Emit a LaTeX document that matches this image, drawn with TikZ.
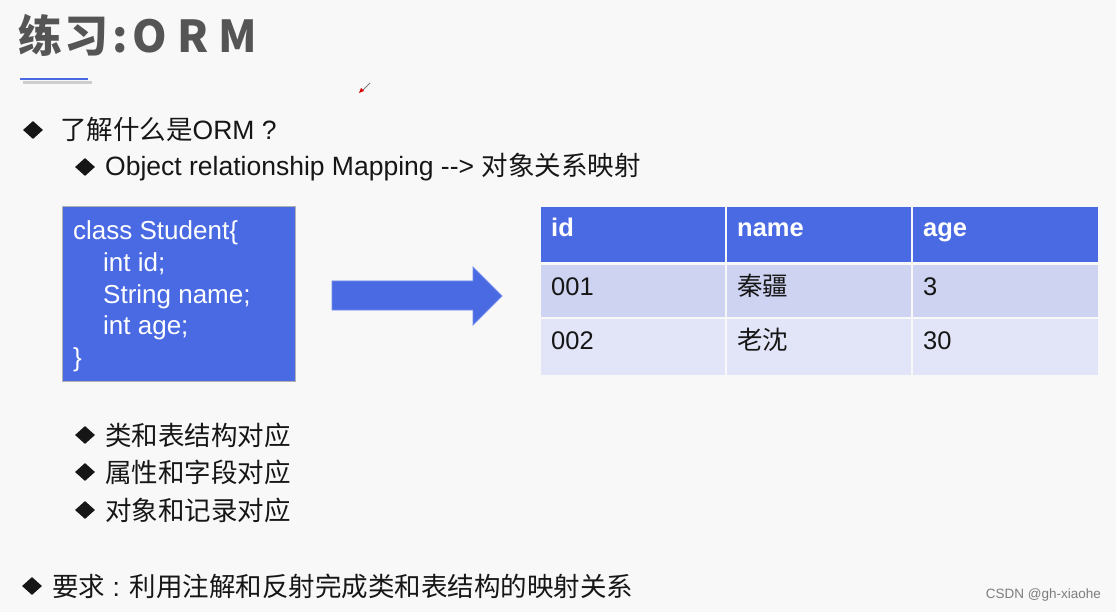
\documentclass[tikz,border=0pt]{standalone}
\usepackage{fontspec}
\setmainfont{Liberation Sans}
\newfontfamily\cjk{Noto Sans CJK SC}
\usetikzlibrary{shapes.geometric}
\definecolor{slidebg}{RGB}{248,248,248}
\definecolor{ormblue}{RGB}{73,106,227}
\definecolor{rowone}{RGB}{206,211,241}
\definecolor{rowtwo}{RGB}{226,229,247}
\definecolor{titlegray}{RGB}{85,85,85}
\definecolor{inkgray}{RGB}{22,22,22}
\definecolor{markgray}{RGB}{125,125,125}

\tikzset{
  bulletmark/.style={diamond,fill=inkgray,inner sep=0pt,
    minimum width=20pt,minimum height=18pt},
  line/.style={anchor=west,inner sep=0pt,text=inkgray,
    font=\fontsize{26.5}{30}\selectfont},
  codeline/.style={anchor=base west,inner sep=0pt,text=white,
    font=\fontsize{26}{30}\selectfont},
  cell/.style={anchor=base west,inner sep=0pt,text=inkgray,
    font=\fontsize{25.5}{30}\selectfont},
  headcell/.style={cell,text=white,font=\fontsize{25.5}{30}\selectfont\bfseries}
}

\begin{document}
\begin{tikzpicture}[x=1pt,y=-1pt]
    \fill[slidebg] (0,0) rectangle (1116,612);
    \useasboundingbox (0,0) rectangle (1116,612);
    % title and its rule
    \node[anchor=west,inner sep=0pt,text=titlegray,
          font=\cjk\bfseries\fontsize{44}{50}\selectfont] (title) at (18,35)
      {练\kern2pt 习\kern4pt:\kern5pt O\kern10pt R\kern10pt M};
    \draw[black!30,line width=3pt,opacity=0.6] (23,83) -- (92,83);
    \draw[ormblue,line width=2.2pt] (20,79) -- (88,79);
    % pen cursor
    \draw[markgray,line width=0.9pt] (370,83) -- (363,90);
    \fill[red!85!black] (359,93) -- (361,88) -- (364,91) -- cycle;
    % what is ORM
    \node[bulletmark] (q1m) at (33,130) {};
    \node[line] (q1) at (60,129) {{\cjk 了解什么是}ORM ?};
    \node[bulletmark] (q2m) at (85,167) {};
    \node[line] (q2) at (105,167)
      {Object relationship Mapping {-}{-}> {\cjk 对象关系映射}};
    % the class
    \node[draw=black!30,line width=0.8pt,fill=ormblue,inner sep=0pt,
          anchor=north west,minimum width=233pt,minimum height=175pt]
      (cls) at (62,206) {};
    \foreach \i/\x/\t in {0/73/class Student\{, 1/103/int id;,
        2/103/String name;, 3/103/int age;, 4/73/\}}
      \node[codeline] (code\i) at (\x,{240+31.5*\i}) {\t};
    % the mapping arrow
    \fill[ormblue,draw=ormblue!75!white,line width=0.8pt]
      (332,281) -- (473,281) -- (473,267) -- (502,296)
      -- (473,325) -- (473,310) -- (332,310) -- cycle;
    % the table
    \foreach \top/\bot/\col in {207/262/ormblue, 265/317/rowone, 319/375/rowtwo}
      \foreach \l/\r in {541/725, 727/911, 913/1098}
        \fill[\col] (\l,\top) rectangle (\r,\bot);
    \node[headcell] (hid) at (551,237) {id};
    \node[headcell] (hname) at (737,237) {name};
    \node[headcell] (hage) at (923,237) {age};
    \node[cell] (id1) at (551,295) {001};
    \node[cell] (name1) at (737,295) {\cjk 秦疆};
    \node[cell] (age1) at (923,295) {3};
    \node[cell] (id2) at (551,349) {002};
    \node[cell] (name2) at (737,349) {\cjk 老沈};
    \node[cell] (age2) at (923,349) {30};
    % what maps to what
    \foreach \i/\y/\t in {1/435/类和表结构对应, 2/472/属性和字段对应,
        3/510/对象和记录对应}{
      \node[bulletmark] (m\i m) at (85,\y) {};
      \node[line] (m\i) at (105,\y) {\cjk \t};}
    % the task
    \node[bulletmark] (taskm) at (32,586) {};
    \node[line] (task) at (52,586)
      {{\cjk 要求} : {\cjk 利用注解和反射完成类和表结构的映射关系}};
    % watermark
    \node[anchor=east,inner sep=0pt,text=markgray,
          font=\fontsize{13.5}{16}\selectfont] (wm) at (1101,595)
      {CSDN @gh-xiaohe};
  \end{tikzpicture}
\end{document}
